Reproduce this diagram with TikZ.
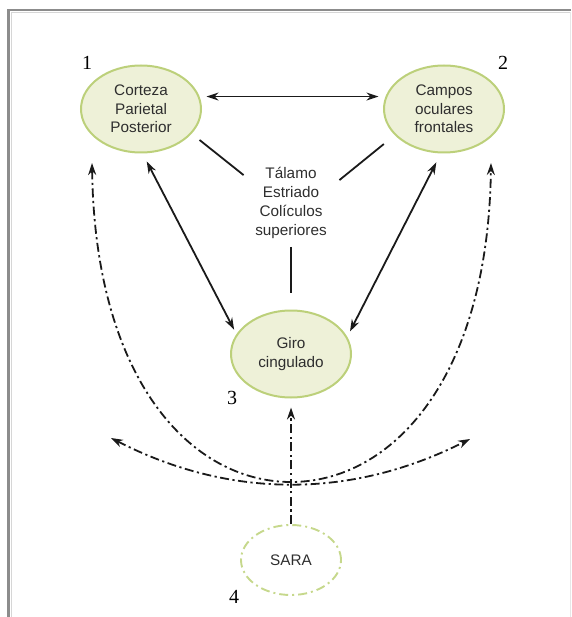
\documentclass[tikz,border=0pt]{standalone}
\usepackage{fontspec}
\setmainfont{Liberation Sans}
\newfontfamily\numfont{Liberation Serif}
\usetikzlibrary{shapes.geometric,arrows.meta}

\definecolor{ringgreen}{HTML}{BCD07A}
\definecolor{softgreen}{HTML}{EEF1D8}
\definecolor{saragreen}{HTML}{C6D88C}
\definecolor{labelgray}{HTML}{2E2E2E}
\definecolor{framegray}{HTML}{8C8C8C}
\definecolor{framelight}{HTML}{D6D6D6}
\definecolor{inkline}{HTML}{1A1A1A}

\begin{document}
\begin{tikzpicture}[x=1pt,y=-1pt,
  region/.style={ellipse, draw=ringgreen, fill=softgreen, line width=2pt,
    minimum width=120pt, minimum height=87pt, inner sep=0pt, align=center,
    font=\fontsize{15.3}{18.5}\selectfont, text=labelgray},
  arousal/.style={ellipse, draw=saragreen, line width=1.9pt,
    dash pattern=on 9pt off 4pt on 2pt off 4pt,
    minimum width=100pt, minimum height=70pt, inner sep=0pt,
    font=\fontsize{15.3}{18.5}\selectfont, text=labelgray},
  hubtext/.style={align=center, inner sep=0pt,
    font=\fontsize{15.3}{19}\selectfont, text=labelgray},
  tag/.style={font=\numfont\fontsize{20}{20}\selectfont, text=black},
  link/.style={draw=inkline, line width=1.8pt},
  duplex/.style={link, {Stealth[length=12pt, width=8pt]}-{Stealth[length=12pt, width=8pt]}},
  flow/.style={draw=inkline, line width=1.8pt,
    dash pattern=on 9pt off 3.5pt on 2.2pt off 3.5pt}
]
% page size and frame
\useasboundingbox (0,0) rectangle (571,617);
\draw[framegray, line width=2.6pt] (8.7,617) -- (8.7,10) -- (571,10);
\draw[framelight, line width=1pt] (11.5,617) -- (11.5,12.3) -- (571,12.3);
\draw[framelight!60, line width=0.8pt] (570.3,12) -- (570.3,617);

% regions
\node[region] (e1) at (141,109) {Corteza\\Parietal\\Posterior};
\node[region] (e2) at (444,109) {Campos\\oculares\\frontales};
\node[region] (e3) at (291,354) {Giro\\cingulado};
\node[arousal] (sara) at (291,560) {SARA};
\node[hubtext] (mid) at (291,203) {Tálamo\\Estriado\\Colículos\\superiores};

% numbers
\node[tag] (n1) at (87,63) {1};
\node[tag] (n2) at (503,63) {2};
\node[tag] (n3) at (232,398) {3};
\node[tag] (n4) at (234,597) {4};

% cortical connections
\draw[duplex, shorten <=7pt, shorten >=7pt] (e1.12) -- (e2.168);
\draw[duplex, shorten <=9pt, shorten >=5pt] (e1.-88) -- (e3.160);
\draw[duplex, shorten <=10pt, shorten >=6pt] (e2.-94) -- (e3.17);

% links to the subcortical relay
\draw[link, shorten <=10pt] (e1.-26) -- ([xshift=-11.5pt,yshift=-8pt]mid.north west);
\draw[link, shorten <=14pt] (e2.208) -- ([xshift=12.5pt,yshift=-13pt]mid.north east);
\draw[link, shorten <=8pt, shorten >=17pt] (mid.south) -- (e3.north);

% ascending activation
\coordinate (u1) at (92,163);
\coordinate (u2) at (491,163);
\coordinate (hub) at (291,482);
\coordinate (a1) at (111,438);
\coordinate (a2) at (470,439);
\draw[flow, {Stealth[length=12pt, width=8pt]}-{Stealth[length=12pt, width=8pt]}]
  (u1) .. controls (95,380) and (191,482) .. (hub)
       .. controls (391,482) and (488,380) .. (u2);
\draw[flow, {Stealth[length=12pt, width=8pt]}-{Stealth[length=12pt, width=8pt]}]
  (a1) .. controls (230,499) and (351,499) .. (a2);
\draw[flow, -{Stealth[length=12pt, width=8pt]}, shorten >=9pt] (sara.north) -- (e3.south);
\end{tikzpicture}
\end{document}
